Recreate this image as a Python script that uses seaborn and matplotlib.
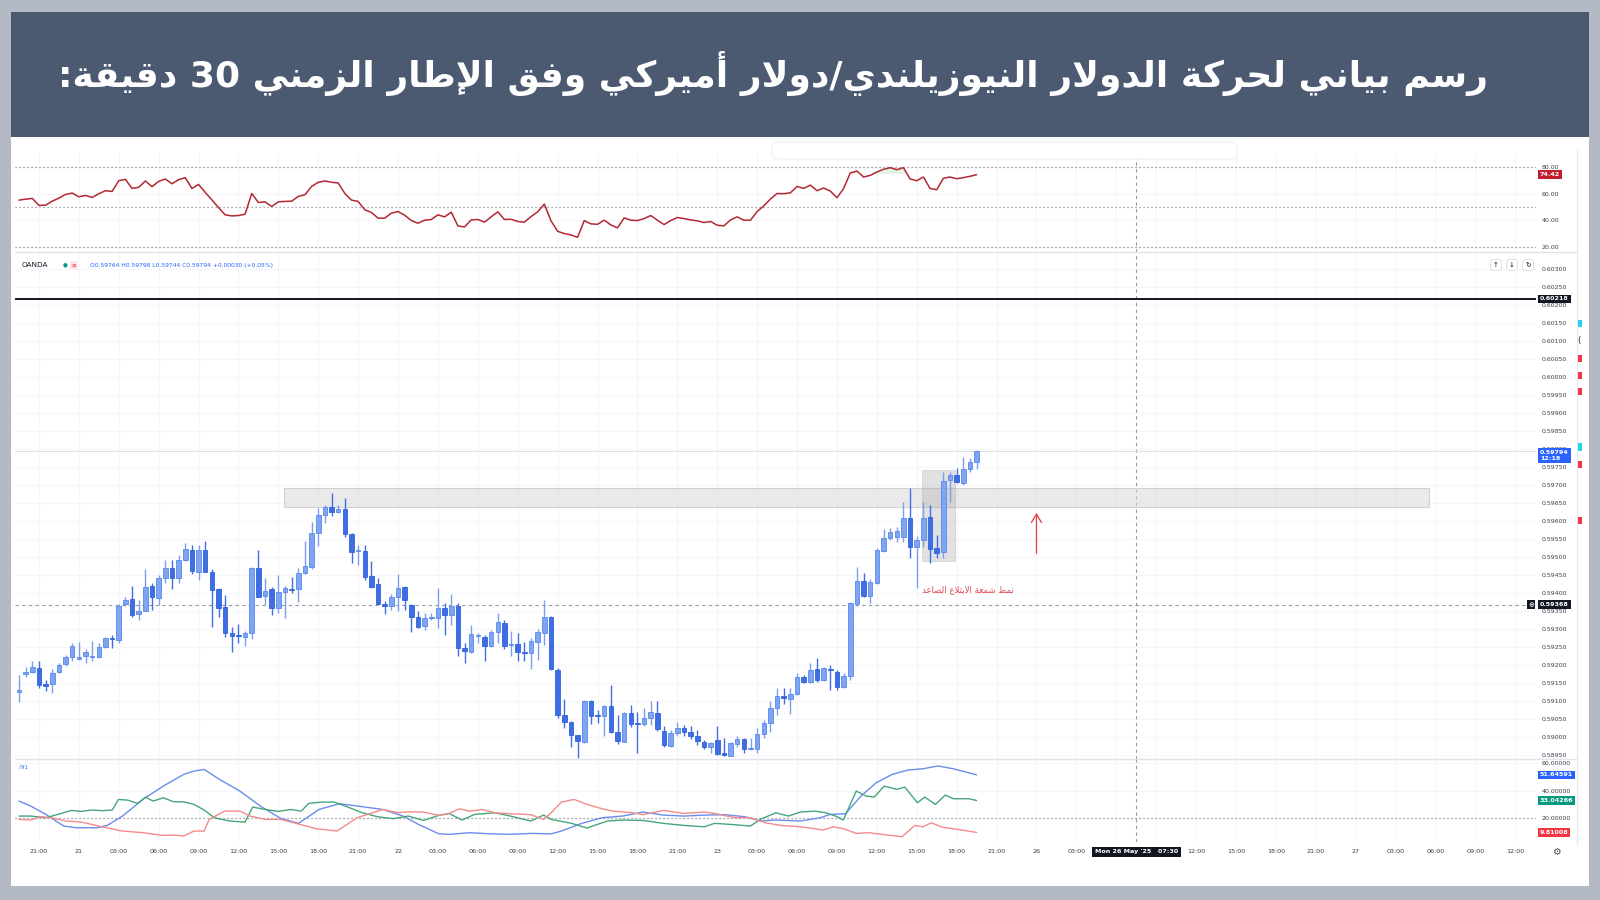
import re
import matplotlib
matplotlib.use("Agg")
import matplotlib.pyplot as plt
import matplotlib.transforms as mtransforms
from matplotlib.patches import Rectangle, FancyBboxPatch
from matplotlib.lines import Line2D
import numpy as np
import seaborn as sns

sns.set_theme(style="white")
plt.rcParams["font.family"] = ["DejaVu Sans"]

# ---- NZD/USD 30 min candles (20 May 19:30 -> 23 May 19:30) ----
opens = [
    0.59125, 0.59175, 0.59182, 0.59191, 0.59147, 0.59148, 0.59181, 0.59203, 0.59222, 0.59216,
    0.59224, 0.59222, 0.59222, 0.59251, 0.59276, 0.59270, 0.59369, 0.59384, 0.59341, 0.59351,
    0.59420, 0.59386, 0.59441, 0.59471, 0.59443, 0.59492, 0.59520, 0.59460, 0.59520, 0.59460,
    0.59412, 0.59361, 0.59289, 0.59282, 0.59278, 0.59290, 0.59469, 0.59393, 0.59411, 0.59358,
    0.59402, 0.59412, 0.59411, 0.59457, 0.59474, 0.59568, 0.59617, 0.59640, 0.59626, 0.59633,
    0.59564, 0.59517, 0.59517, 0.59448, 0.59425, 0.59370, 0.59364, 0.59389, 0.59418, 0.59367,
    0.59335, 0.59309, 0.59331, 0.59330, 0.59358, 0.59339, 0.59365, 0.59247, 0.59237, 0.59282,
    0.59279, 0.59253, 0.59291, 0.59318, 0.59257, 0.59258, 0.59235, 0.59233, 0.59265, 0.59290,
    0.59335, 0.59187, 0.59061, 0.59041, 0.59006, 0.58987, 0.59101, 0.59060, 0.59059, 0.59085,
    0.59015, 0.58987, 0.59066, 0.59037, 0.59035, 0.59054, 0.59066, 0.59017, 0.58975, 0.59011,
    0.59025, 0.59014, 0.59002, 0.58987, 0.58973, 0.58992, 0.58957, 0.58948, 0.58981, 0.58995,
    0.58968, 0.58966, 0.59009, 0.59038, 0.59080, 0.59114, 0.59105, 0.59119, 0.59168, 0.59154,
    0.59188, 0.59159, 0.59190, 0.59182, 0.59139, 0.59170, 0.59370, 0.59434, 0.59392, 0.59428,
    0.59518, 0.59554, 0.59557, 0.59557, 0.59610, 0.59529, 0.59548, 0.59611, 0.59526, 0.59514,
    0.59715, 0.59728, 0.59707, 0.59744, 0.59764,
]
highs = [
    0.59173, 0.59196, 0.59210, 0.59210, 0.59159, 0.59189, 0.59207, 0.59228, 0.59261, 0.59265,
    0.59244, 0.59267, 0.59261, 0.59278, 0.59283, 0.59370, 0.59390, 0.59420, 0.59381, 0.59466,
    0.59428, 0.59451, 0.59492, 0.59492, 0.59506, 0.59540, 0.59534, 0.59534, 0.59546, 0.59466,
    0.59414, 0.59395, 0.59307, 0.59314, 0.59296, 0.59472, 0.59520, 0.59443, 0.59418, 0.59451,
    0.59420, 0.59446, 0.59469, 0.59545, 0.59599, 0.59636, 0.59645, 0.59679, 0.59645, 0.59664,
    0.59566, 0.59534, 0.59534, 0.59490, 0.59443, 0.59379, 0.59397, 0.59452, 0.59420, 0.59370,
    0.59351, 0.59346, 0.59346, 0.59414, 0.59372, 0.59398, 0.59373, 0.59261, 0.59312, 0.59289,
    0.59283, 0.59298, 0.59344, 0.59326, 0.59296, 0.59290, 0.59265, 0.59275, 0.59300, 0.59381,
    0.59337, 0.59191, 0.59105, 0.59045, 0.59006, 0.59103, 0.59103, 0.59075, 0.59089, 0.59145,
    0.59061, 0.59070, 0.59089, 0.59070, 0.59080, 0.59099, 0.59101, 0.59030, 0.59019, 0.59043,
    0.59034, 0.59031, 0.59019, 0.58992, 0.58987, 0.59031, 0.58997, 0.58985, 0.59002, 0.58998,
    0.58997, 0.59025, 0.59048, 0.59099, 0.59136, 0.59136, 0.59136, 0.59177, 0.59173, 0.59205,
    0.59219, 0.59196, 0.59201, 0.59187, 0.59177, 0.59376, 0.59474, 0.59455, 0.59439, 0.59525,
    0.59578, 0.59580, 0.59585, 0.59654, 0.59692, 0.59559, 0.59654, 0.59645, 0.59562, 0.59738,
    0.59738, 0.59747, 0.59778, 0.59775, 0.59798,
]
lows = [
    0.59098, 0.59168, 0.59177, 0.59136, 0.59129, 0.59123, 0.59179, 0.59198, 0.59212, 0.59214,
    0.59207, 0.59210, 0.59219, 0.59247, 0.59247, 0.59262, 0.59364, 0.59333, 0.59326, 0.59349,
    0.59353, 0.59367, 0.59428, 0.59411, 0.59429, 0.59488, 0.59453, 0.59437, 0.59458, 0.59305,
    0.59335, 0.59279, 0.59237, 0.59261, 0.59253, 0.59273, 0.59390, 0.59367, 0.59339, 0.59344,
    0.59330, 0.59400, 0.59374, 0.59453, 0.59466, 0.59531, 0.59596, 0.59613, 0.59622, 0.59557,
    0.59483, 0.59478, 0.59437, 0.59414, 0.59370, 0.59341, 0.59353, 0.59351, 0.59353, 0.59293,
    0.59302, 0.59298, 0.59326, 0.59302, 0.59284, 0.59312, 0.59224, 0.59205, 0.59233, 0.59261,
    0.59210, 0.59251, 0.59261, 0.59244, 0.59224, 0.59212, 0.59210, 0.59188, 0.59214, 0.59256,
    0.59187, 0.59052, 0.59026, 0.58971, 0.58941, 0.58983, 0.59037, 0.59040, 0.59004, 0.59010,
    0.58981, 0.58985, 0.59029, 0.58957, 0.59031, 0.59034, 0.59018, 0.58972, 0.58973, 0.59002,
    0.59002, 0.58994, 0.58978, 0.58966, 0.58955, 0.58950, 0.58946, 0.58946, 0.58973, 0.58955,
    0.58964, 0.58955, 0.58997, 0.59015, 0.59061, 0.59092, 0.59064, 0.59117, 0.59151, 0.59151,
    0.59154, 0.59157, 0.59131, 0.59131, 0.59136, 0.59159, 0.59363, 0.59390, 0.59372, 0.59426,
    0.59515, 0.59548, 0.59543, 0.59543, 0.59497, 0.59414, 0.59529, 0.59483, 0.59497, 0.59497,
    0.59654, 0.59705, 0.59701, 0.59738, 0.59744,
]
closes = [
    0.59131, 0.59182, 0.59194, 0.59145, 0.59143, 0.59177, 0.59200, 0.59222, 0.59253, 0.59222,
    0.59237, 0.59223, 0.59251, 0.59274, 0.59272, 0.59365, 0.59381, 0.59338, 0.59351, 0.59418,
    0.59388, 0.59443, 0.59469, 0.59441, 0.59492, 0.59522, 0.59462, 0.59520, 0.59458, 0.59409,
    0.59360, 0.59290, 0.59281, 0.59281, 0.59289, 0.59469, 0.59390, 0.59406, 0.59358, 0.59404,
    0.59414, 0.59410, 0.59457, 0.59476, 0.59568, 0.59617, 0.59640, 0.59625, 0.59633, 0.59564,
    0.59515, 0.59518, 0.59446, 0.59418, 0.59370, 0.59363, 0.59390, 0.59414, 0.59381, 0.59333,
    0.59307, 0.59332, 0.59332, 0.59358, 0.59339, 0.59365, 0.59247, 0.59240, 0.59286, 0.59283,
    0.59254, 0.59291, 0.59319, 0.59253, 0.59258, 0.59236, 0.59234, 0.59267, 0.59293, 0.59335,
    0.59188, 0.59061, 0.59043, 0.59006, 0.58989, 0.59101, 0.59059, 0.59059, 0.59085, 0.59015,
    0.58990, 0.59066, 0.59037, 0.59036, 0.59053, 0.59069, 0.59021, 0.58978, 0.59012, 0.59026,
    0.59013, 0.59002, 0.58990, 0.58973, 0.58983, 0.58953, 0.58950, 0.58983, 0.58994, 0.58966,
    0.58969, 0.59009, 0.59040, 0.59080, 0.59114, 0.59108, 0.59119, 0.59166, 0.59154, 0.59187,
    0.59159, 0.59191, 0.59185, 0.59140, 0.59170, 0.59372, 0.59434, 0.59392, 0.59432, 0.59520,
    0.59554, 0.59571, 0.59574, 0.59610, 0.59529, 0.59548, 0.59610, 0.59522, 0.59512, 0.59712,
    0.59728, 0.59710, 0.59744, 0.59764, 0.59794,
]

# ---- RSI (one value per candle) ----
rsi = [
    55.3, 56.0, 56.6, 51.3, 51.5, 54.5, 56.8, 59.6, 60.6, 57.8,
    58.8, 57.3, 60.1, 62.4, 61.8, 69.9, 70.9, 64.1, 64.9, 69.7,
    65.4, 69.4, 71.2, 67.6, 70.7, 72.2, 64.1, 67.1, 61.1, 55.5,
    49.7, 44.2, 43.4, 43.7, 44.7, 60.3, 53.5, 54.0, 50.5, 54.0,
    54.3, 54.5, 58.1, 59.3, 65.6, 68.7, 69.7, 68.7, 68.2, 60.3,
    55.3, 54.3, 48.0, 46.0, 41.7, 41.7, 45.5, 46.7, 43.9, 39.9,
    37.9, 40.2, 40.7, 44.2, 42.7, 46.2, 35.9, 35.1, 40.4, 40.7,
    38.7, 42.7, 46.5, 40.7, 40.9, 39.2, 38.7, 42.9, 46.5, 52.3,
    39.7, 31.8, 30.1, 29.1, 27.3, 39.9, 37.4, 37.1, 40.2, 36.6,
    34.4, 41.9, 40.2, 39.9, 41.4, 43.7, 40.2, 36.9, 39.9, 42.2,
    41.4, 40.4, 39.7, 38.4, 39.2, 36.4, 35.9, 40.4, 42.7, 40.2,
    40.2, 46.7, 51.0, 56.1, 60.3, 60.1, 60.8, 65.6, 64.1, 66.6,
    62.4, 64.4, 62.1, 57.1, 64.0, 75.7, 77.2, 72.7, 73.9, 76.5,
    78.5, 79.7, 78.2, 79.7, 71.2, 69.9, 72.7, 64.1, 63.1, 71.7,
    72.7, 71.4, 72.2, 73.2, 74.42,
]

# ---- DMI lines (bar position, value) ----
adx_x = [0, 1.75, 4.05, 6.74, 8.65, 11.72, 13.26, 15.56, 18.63, 21.7, 24.77, 26.3, 27.84, 30.14,
         33.21, 36.28, 39.35, 42.04, 45.11, 48.18, 50.86, 54.7, 57.77, 60.08, 63.14, 64.68, 67.75,
         70.82, 73.89, 76.96, 80.03, 81.56, 84.63, 87.7, 90.77, 93.84, 96.91, 99.98, 103.05,
         106.12, 109.19, 111.5, 113.8, 117.5, 120.5, 122.0, 124.3, 126.6, 128.9, 131.3, 133.6,
         135.9, 138.2, 140.5, 144]
adx_y = [32.6, 29.0, 22.9, 14.4, 13.2, 13.2, 14.9, 21.7, 33.8, 43.5, 52.0, 54.4, 55.6, 48.4,
         39.9, 29.0, 20.0, 16.4, 26.5, 30.7, 29.0, 26.5, 21.7, 15.6, 8.8, 8.4, 9.6,
         8.8, 8.4, 9.1, 8.8, 10.8, 16.4, 20.5, 21.7, 24.6, 22.4, 21.7, 22.4,
         22.7, 21.2, 18.1, 18.8, 18.1, 20.5, 22.9, 23.4, 36.2, 45.9, 52.0, 55.1,
         56.1, 58.1, 56.1, 51.64591]
plus_x = [0, 1.75, 4.05, 6.35, 7.89, 9.42, 10.96, 12.49, 14.03, 14.95, 16.33, 17.86, 19.02, 20.17,
          21.7, 23.24, 24.77, 26.3, 27.84, 29.38, 31.68, 33.98, 35.13, 37.05, 38.97, 40.89, 42.42,
          43.57, 45.49, 47.41, 49.33, 51.63, 53.93, 56.24, 58.54, 60.84, 63.14, 64.68, 66.6, 68.52,
          71.59, 73.89, 76.96, 78.88, 80.03, 83.1, 85.4, 88.47, 90.77, 93.84, 96.91, 99.98, 103.05,
          104.59, 107.66, 109.96, 111.5, 113.8, 115.71, 117.5, 119.7, 121.3, 122.8, 123.96, 125.9,
          127.4, 128.6, 130.1, 132.0, 133.2, 135.1, 136.2, 137.8, 139.3, 140.5, 142.8, 144]
plus_y = [21.7, 21.7, 20.5, 23.6, 25.8, 25.1, 26.1, 25.6, 26.1, 33.8, 33.3, 30.9, 35.5, 32.6,
          35.0, 32.1, 32.1, 30.2, 26.1, 20.5, 18.1, 17.3, 28.2, 26.5, 25.1, 26.5, 25.3,
          30.9, 31.9, 31.9, 28.5, 24.1, 21.2, 19.8, 21.7, 18.5, 22.2, 23.6, 18.8, 22.9,
          24.1, 21.7, 18.1, 22.4, 19.3, 16.4, 13.0, 18.1, 18.8, 18.5, 16.4, 14.9, 13.9,
          16.4, 15.4, 14.4, 19.3, 24.1, 21.7, 24.6, 25.3, 24.1, 21.7, 18.8, 39.9,
          36.2, 35.5, 43.5, 41.1, 42.8, 31.4, 35.5, 30.2, 37.0, 34.3, 34.3, 33.04266]
minus_x = [0, 1.75, 3.28, 4.82, 7.12, 9.42, 12.49, 15.56, 18.63, 21.7, 23.24, 24.77, 26.3, 27.84,
           28.61, 30.91, 33.21, 34.75, 37.05, 39.35, 41.66, 44.73, 47.8, 50.86, 52.4, 54.7, 57.0,
           58.54, 60.84, 63.14, 64.68, 66.22, 67.75, 69.67, 71.59, 73.89, 76.96, 78.88, 80.03,
           81.56, 83.48, 85.4, 87.7, 89.24, 92.31, 93.84, 96.91, 99.98, 103.05, 104.59, 107.66,
           109.96, 112.26, 114.57, 117.5, 119.0, 120.9, 122.4, 124.0, 125.9, 127.8, 129.7, 132.8,
           134.7, 135.9, 137.2, 138.9, 141.2, 144]
minus_y = [19.3, 18.8, 21.2, 20.5, 18.1, 17.3, 13.9, 10.8, 9.6, 7.6, 7.9, 7.2, 10.8, 10.8,
           19.3, 25.3, 25.3, 21.7, 19.3, 19.3, 16.4, 12.5, 10.8, 20.5, 22.9, 26.5, 24.1,
           24.8, 24.6, 22.2, 23.6, 27.0, 25.3, 26.5, 24.1, 23.4, 22.7, 19.3, 24.1,
           31.9, 33.8, 30.2, 27.0, 25.3, 24.1, 22.7, 25.8, 23.6, 24.6, 23.6, 20.5,
           20.5, 16.8, 14.9, 13.9, 13.0, 11.5, 13.9, 12.5, 9.1, 9.6, 8.4, 6.7,
           14.9, 13.9, 16.8, 13.5, 12.0, 9.81008]

# time axis: one label every 6 bars from bar 3 (weekend gap removed)
time_labels = ["21:00", "21", "03:00", "06:00", "09:00", "12:00", "15:00", "18:00",
               "21:00", "22", "03:00", "06:00", "09:00", "12:00", "15:00", "18:00",
               "21:00", "23", "03:00", "06:00", "09:00", "12:00", "15:00", "18:00",
               "21:00", "26", "03:00", "", "", "12:00", "15:00", "18:00",
               "21:00", "27", "03:00", "06:00", "09:00", "12:00"]
price_ticks = [round(0.58950 + 0.0005 * k, 5) for k in range(28)]

# levels / drawings
resistance = 0.60218
crosshair_price = 0.59368
crosshair_bar = 168
last_close = 0.59794
zone_bars = (39.8, 212.1)
zone_prices = (0.59639, 0.59692)
engulf_bars = (135.8, 140.8)
engulf_prices = (0.59489, 0.59741)
arrow_bar, arrow_from, arrow_to = 153.0, 0.59503, 0.59631
alert_cyan = [0.60149, 0.59806]
alert_red = [0.60053, 0.60005, 0.59960, 0.59758, 0.59602]

title_ar = "رسم بياني لحركة الدولار النيوزيلندي/دولار أميركي وفق الإطار الزمني 30 دقيقة:"
note_ar = "نمط شمعة الابتلاع الصاعد"

# ---- minimal Arabic shaping (presentation forms + visual order) ----
FORMS = {
    'ا': ('\uFE8D', '\uFE8E', None, None), 'أ': ('\uFE83', '\uFE84', None, None),
    'إ': ('\uFE87', '\uFE88', None, None), 'ب': ('\uFE8F', '\uFE90', '\uFE91', '\uFE92'),
    'ة': ('\uFE93', '\uFE94', None, None), 'ت': ('\uFE95', '\uFE96', '\uFE97', '\uFE98'),
    'ح': ('\uFEA1', '\uFEA2', '\uFEA3', '\uFEA4'), 'د': ('\uFEA9', '\uFEAA', None, None),
    'ر': ('\uFEAD', '\uFEAE', None, None), 'ز': ('\uFEAF', '\uFEB0', None, None),
    'س': ('\uFEB1', '\uFEB2', '\uFEB3', '\uFEB4'), 'ش': ('\uFEB5', '\uFEB6', '\uFEB7', '\uFEB8'),
    'ص': ('\uFEB9', '\uFEBA', '\uFEBB', '\uFEBC'), 'ط': ('\uFEC1', '\uFEC2', '\uFEC3', '\uFEC4'),
    'ع': ('\uFEC9', '\uFECA', '\uFECB', '\uFECC'), 'ف': ('\uFED1', '\uFED2', '\uFED3', '\uFED4'),
    'ق': ('\uFED5', '\uFED6', '\uFED7', '\uFED8'), 'ك': ('\uFED9', '\uFEDA', '\uFEDB', '\uFEDC'),
    'ل': ('\uFEDD', '\uFEDE', '\uFEDF', '\uFEE0'), 'م': ('\uFEE1', '\uFEE2', '\uFEE3', '\uFEE4'),
    'ن': ('\uFEE5', '\uFEE6', '\uFEE7', '\uFEE8'), 'و': ('\uFEED', '\uFEEE', None, None),
    'ي': ('\uFEF1', '\uFEF2', '\uFEF3', '\uFEF4'),
}
LAM_ALEF = {'ا': ('\uFEFB', '\uFEFC'), 'أ': ('\uFEF7', '\uFEF8'), 'إ': ('\uFEF9', '\uFEFA')}


def shape_ar(text):
    out, i, prev_join = [], 0, False
    while i < len(text):
        ch = text[i]
        if ch not in FORMS:
            out.append(ch)
            prev_join = False
            i += 1
            continue
        if ch == 'ل' and i + 1 < len(text) and text[i + 1] in LAM_ALEF:
            iso, fin = LAM_ALEF[text[i + 1]]
            out.append(fin if prev_join else iso)
            prev_join = False
            i += 2
            continue
        iso, fin, ini, med = FORMS[ch]
        nxt = text[i + 1] if i + 1 < len(text) else ''
        next_join = ini is not None and nxt in FORMS
        if prev_join and next_join:
            out.append(med)
        elif prev_join:
            out.append(fin)
        elif next_join:
            out.append(ini)
        else:
            out.append(iso)
        prev_join = ini is not None
        i += 1
    vis = ''.join(out)[::-1]
    return re.sub(r'[0-9]+', lambda m: m.group(0)[::-1], vis)


# ---- figure ----
W, H = 1600, 900
fig = plt.figure(figsize=(16, 9), dpi=100)
fig.patch.set_facecolor("#b3bac4")


def fx(px):
    return px / W


def fy(py):
    return 1 - py / H


fig.add_artist(Rectangle((fx(11), fy(886)), 1578 / W, 749 / H, transform=fig.transFigure,
                         fc="white", ec="none", zorder=0))
fig.add_artist(Rectangle((fx(11), fy(137)), 1578 / W, 125 / H, transform=fig.transFigure,
                         fc="#4b5a71", ec="none", zorder=0))
fig.text(fx(773), fy(73), shape_ar(title_ar), ha="center", va="center", color="white",
         fontsize=26, fontweight="bold")

X0, X1 = 15, 1536
BAR_PX, BAR0_PX = 6.65, 19
XLIM = ((X0 - BAR0_PX) / BAR_PX, (X1 - BAR0_PX) / BAR_PX)
tick_pos = list(range(3, 3 + 6 * len(time_labels), 6))


def add_panel(y0, y1):
    ax = fig.add_axes([fx(X0), fy(y1), (X1 - X0) / W, (y1 - y0) / H])
    ax.set_facecolor("none")
    for s in ax.spines.values():
        s.set_visible(False)
    ax.set_xlim(*XLIM)
    ax.yaxis.tick_right()
    ax.tick_params(axis="y", length=0, pad=4, labelsize=4.5, labelcolor="#3a3e4a")
    ax.set_xticks(tick_pos)
    ax.tick_params(axis="x", length=0, labelbottom=False)
    ax.grid(True, color="#f5f6f9", lw=0.8)
    ax.set_axisbelow(True)
    ax.axvline(crosshair_bar, color="#9598a1", lw=0.8, ls=(0, (3, 3)), zorder=2)
    return ax


def tag(ax, y, text, fc, fs=4.6):
    tr = mtransforms.blended_transform_factory(ax.transAxes, ax.transData)
    ax.text(1 + 4 / (X1 - X0), y, text, transform=tr, ha="left", va="center", fontsize=fs,
            color="white", fontweight="bold", clip_on=False, zorder=10,
            bbox=dict(boxstyle="square,pad=0.28", fc=fc, ec="none"))


bars = np.arange(len(opens))

# RSI panel
ax_rsi = add_panel(153, 252)
ax_rsi.set_ylim(16.24, 90.76)
ax_rsi.set_yticks([20, 40, 60, 80], ["20.00", "40.00", "60.00", "80.00"])
for lv in (80, 50, 20):
    ax_rsi.axhline(lv, color="#8a8d96", lw=0.9, ls=(0, (1, 2.2)), zorder=2)
rsi_arr = np.array(rsi)
ax_rsi.fill_between(bars, 75, rsi_arr, where=rsi_arr > 75, color="#4caf50", alpha=0.15,
                    lw=0, interpolate=True)
sns.lineplot(x=bars, y=rsi, ax=ax_rsi, color="#b22833", linewidth=1.1, zorder=4)
ax_rsi.set_xlabel("")
ax_rsi.set_ylabel("")
tag(ax_rsi, rsi[-1], f"{rsi[-1]:.2f}", "#c21f2c")
fig.add_artist(FancyBboxPatch((fx(772), fy(159)), 465 / W, 17 / H, transform=fig.transFigure,
                              boxstyle="round,pad=0,rounding_size=0.004", fc="white",
                              ec="#eef0f3", lw=0.8, zorder=1))

# price panel
ax = add_panel(252, 759)
ax.set_ylim(0.58939, 0.603481)
ax.set_yticks(price_ticks, [f"{p:.5f}" for p in price_ticks])
ax.axhline(resistance, color="#131722", lw=1.4, zorder=5)
ax.axhline(crosshair_price, color="#9598a1", lw=0.8, ls=(0, (3, 3)), zorder=2)
ax.axhline(last_close, color="#dfe1e6", lw=0.8, zorder=2)
ax.add_patch(Rectangle((zone_bars[0], zone_prices[0]), zone_bars[1] - zone_bars[0],
                       zone_prices[1] - zone_prices[0], fc="#d9d9d9", ec="#b5b5b5",
                       alpha=0.55, lw=0.8, zorder=2))
ax.add_patch(Rectangle((engulf_bars[0], engulf_prices[0]), engulf_bars[1] - engulf_bars[0],
                       engulf_prices[1] - engulf_prices[0], fc="#9e9e9e", ec="#a8a8a8",
                       alpha=0.3, lw=0.8, zorder=2))

o, h, l, c = map(np.array, (opens, highs, lows, closes))
up = c >= o
body_lo = np.minimum(o, c)
body_h = np.maximum(np.abs(c - o), 0.000025)
ax.vlines(bars[up], l[up], h[up], color="#7a9ff0", lw=1.0, zorder=3)
ax.vlines(bars[~up], l[~up], h[~up], color="#3e6fe3", lw=1.0, zorder=3)
ax.bar(bars[up], body_h[up], bottom=body_lo[up], width=0.68, color="#7ea5f2",
       edgecolor="#5a87ea", linewidth=0.6, zorder=4)
ax.bar(bars[~up], body_h[~up], bottom=body_lo[~up], width=0.68, color="#3d6ee4",
       edgecolor="#3262da", linewidth=0.6, zorder=4)

ax.annotate("", xy=(arrow_bar, arrow_to), xytext=(arrow_bar, arrow_from),
            arrowprops=dict(arrowstyle="->,head_length=0.5,head_width=0.3", color="#e5484d",
                            lw=1.0), zorder=6)
ax.text(142.7, 0.59409, shape_ar(note_ar), ha="center", va="center", fontsize=6.2,
        color="#e5484d", zorder=6)

tag(ax, resistance, f"{resistance:.5f}", "#131722")
tag(ax, crosshair_price, f"{crosshair_price:.5f}", "#131722")
tag(ax, last_close - 0.00012, f"{last_close:.5f}\n12:18", "#2962ff")
tr = mtransforms.blended_transform_factory(ax.transAxes, ax.transData)
ax.text(1 - 5 / (X1 - X0), crosshair_price, "⊕", transform=tr, ha="center", va="center",
        fontsize=5, color="white", clip_on=False, zorder=10,
        bbox=dict(boxstyle="square,pad=0.2", fc="#131722", ec="none"))

# legend row
ax.text((22 - X0) / (X1 - X0), (759 - 265) / 507, "OANDA", transform=ax.transAxes,
        ha="left", va="center", fontsize=5.2, color="#131722")
ax.text((65 - X0) / (X1 - X0), (759 - 265) / 507, "●", transform=ax.transAxes,
        ha="center", va="center", fontsize=4, color="#089981")
ax.text((74 - X0) / (X1 - X0), (759 - 265) / 507, "≡", transform=ax.transAxes,
        ha="center", va="center", fontsize=4, color="#f23645",
        bbox=dict(boxstyle="round,pad=0.25", fc="#fde1e4", ec="none"))
ax.text((90 - X0) / (X1 - X0), (759 - 265) / 507,
        f"O{opens[-1]:.5f} H{highs[-1]:.5f} L{lows[-1]:.5f} C{closes[-1]:.5f} "
        f"+{closes[-1] - opens[-1]:.5f} (+0.05%)",
        transform=ax.transAxes, ha="left", va="center", fontsize=4.3, color="#2962ff")
for px_, sym in ((1496, "↑"), (1512, "↓"), (1528, "↻")):
    fig.text(fx(px_), fy(265), sym, ha="center", va="center", fontsize=5, color="#131722",
             bbox=dict(boxstyle="round,pad=0.35", fc="white", ec="#d1d4dc", lw=0.5))

# DMI panel
ax_dmi = add_panel(759, 842)
ax_dmi.set_ylim(2.84, 63.2)
ax_dmi.set_yticks([20, 40, 60], ["20.00000", "40.00000", "60.00000"])
ax_dmi.axhline(20, color="#8a8d96", lw=0.9, ls=(0, (1, 2.2)), zorder=2)
sns.lineplot(x=adx_x, y=adx_y, ax=ax_dmi, color="#6b8cec", linewidth=1.0, zorder=4)
sns.lineplot(x=plus_x, y=plus_y, ax=ax_dmi, color="#47a57a", linewidth=1.0, zorder=4)
sns.lineplot(x=minus_x, y=minus_y, ax=ax_dmi, color="#f28b8b", linewidth=1.0, zorder=4)
ax_dmi.set_xlabel("")
ax_dmi.set_ylabel("")
ax_dmi.set_xticks(tick_pos, time_labels)
ax_dmi.tick_params(axis="x", length=0, pad=5, labelbottom=True, labelsize=4.6,
                   labelcolor="#3a3e4a")
ax_dmi.text((19 - X0) / (X1 - X0), 0.9, "/91", transform=ax_dmi.transAxes, fontsize=4,
            color="#2962ff", ha="left", va="center")
tag(ax_dmi, adx_y[-1], f"{adx_y[-1]:.5f}", "#2962ff")
tag(ax_dmi, plus_y[-1], f"{plus_y[-1]:.5f}", "#089981")
tag(ax_dmi, minus_y[-1], f"{minus_y[-1]:.5f}", "#f23645")

# crosshair date tag and corner icon
ax_dmi.text(crosshair_bar, fy(852), "Mon 26 May '25   07:30",
            transform=mtransforms.blended_transform_factory(ax_dmi.transData, fig.transFigure),
            ha="center", va="center", fontsize=4.6, color="white", fontweight="bold",
            clip_on=False, zorder=10, bbox=dict(boxstyle="square,pad=0.45", fc="#131722", ec="none"))
fig.text(fx(1556), fy(852), "⚙", ha="center", va="center", fontsize=7, color="#50535e")

# separators, right edge, alert markers
for yy in (252, 759):
    fig.add_artist(Line2D([fx(15), fx(1577)], [fy(yy), fy(yy)], color="#e0e3eb", lw=1))
fig.add_artist(Line2D([fx(1577), fx(1577)], [fy(150), fy(845)], color="#e6e8ee", lw=0.8))
trm = mtransforms.blended_transform_factory(fig.transFigure, ax.transData)
for lvl in alert_cyan:
    ax.add_patch(Rectangle((fx(1578), lvl - 0.0001), 3.5 / W, 0.0002, transform=trm,
                           fc="#22d3ee", ec="none", clip_on=False))
for lvl in alert_red:
    ax.add_patch(Rectangle((fx(1578), lvl - 0.0001), 3.5 / W, 0.0002, transform=trm,
                           fc="#f23645", ec="none", clip_on=False))
ax.text(fx(1579), 0.60103, "(", transform=trm, fontsize=6, color="#131722",
        ha="center", va="center", clip_on=False)

fig.savefig("out.png", dpi=100, facecolor=fig.get_facecolor())
